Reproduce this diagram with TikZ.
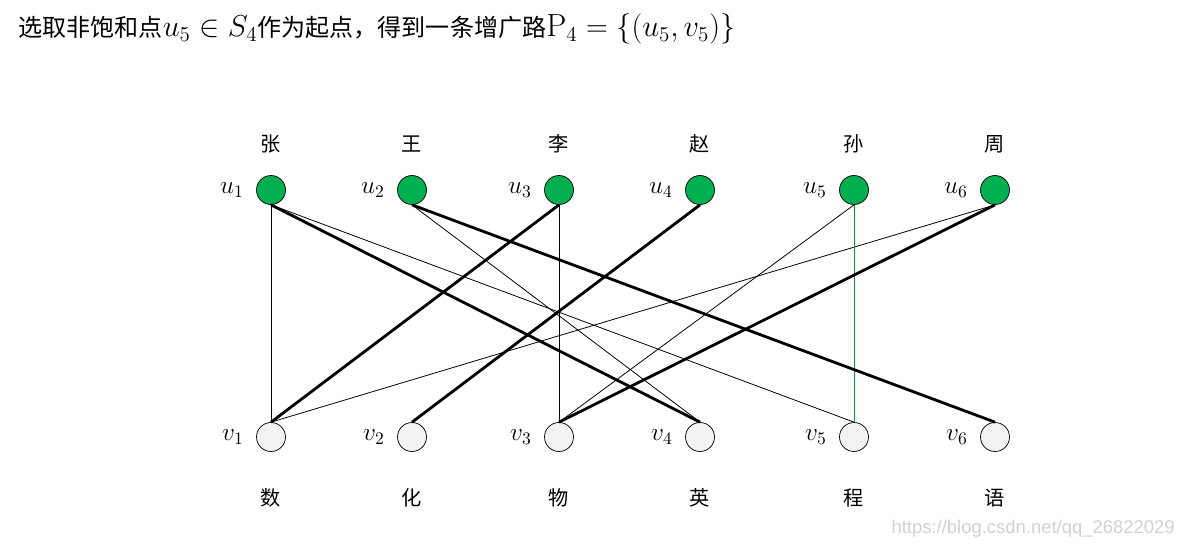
\documentclass[tikz,border=0pt]{standalone}
\usepackage{fontspec}
\usepackage{amsmath}
\newfontfamily\cjk{Noto Sans CJK SC}[Scale=1]
\newfontfamily\wmfont{Liberation Sans}
\usetikzlibrary{positioning}
\definecolor{satGreen}{RGB}{0,176,80}
\definecolor{freeGray}{RGB}{242,242,242}
\definecolor{pathGreen}{RGB}{0,160,60}
\newcommand{\titlemath}[1]{{\fontsize{18.2}{21}\selectfont$#1$}}
\tikzset{
    unode/.style={circle,draw=black,thin,fill=satGreen,minimum size=0.58cm,inner sep=0pt},
    vnode/.style={circle,draw=black,thin,fill=freeGray,minimum size=0.58cm,inner sep=0pt},
    sublbl/.style={font=\fontsize{14}{16}\selectfont,inner sep=0pt},
    namelbl/.style={font=\cjk\fontsize{11.5}{13}\selectfont,inner sep=0pt},
    match/.style={line width=1.6pt},
    edge/.style={line width=0.45pt},
    aug/.style={line width=0.45pt,draw=pathGreen}
}

\begin{document}
\begin{tikzpicture}[x=0.02cm,y=-0.02cm]
    \useasboundingbox (0,0) rectangle (1183,548);

    % title
    \node[anchor=west,inner sep=0pt,font=\cjk\fontsize{13.7}{16}\selectfont] (title) at (18,29)
        {选取非饱和点\titlemath{u_5\in S_4}作为起点，得到一条增广路\titlemath{\mathrm{P}_4=\{(u_5,v_5)\}}};

    % vertices
    \foreach \i/\x/\top/\bot in {1/271/张/数,2/412/王/化,3/559/李/物,4/700/赵/英,5/854/孙/程,6/995/周/语}{
        \node[unode] (u\i) at (\x,190) {};
        \node[vnode] (v\i) at (\x,437) {};
        \node[sublbl,left=0.24cm of u\i] (lu\i) {$u_{\i}$};
        \node[sublbl,left=0.24cm of v\i] (lv\i) {$v_{\i}$};
        \node[namelbl] (n\i) at (\x,144) {\top};
        \node[namelbl] (c\i) at (\x,498) {\bot};
    }

    % edges
    \draw[edge] (u1.south) -- (v1.north);
    \draw[edge] (u1.south) -- (v5.north);
    \draw[edge] (u2.south) -- (v4.north);
    \draw[edge] (u3.south) -- (v3.north);
    \draw[edge] (u5.south) -- (v3.north);
    \draw[edge] (u6.south) -- (v1.north);
    \draw[aug] (u5.south) -- (v5.north);

    % matching
    \draw[match] (u1.south) -- (v4.north);
    \draw[match] (u2.south) -- (v6.north);
    \draw[match] (u3.south) -- (v1.north);
    \draw[match] (u4.south) -- (v2.north);
    \draw[match] (u6.south) -- (v3.north);

    \node[anchor=east,inner sep=0pt,text=black!18,font=\wmfont\fontsize{10.5}{12}\selectfont] (wm) at (1175,529)
        {https://blog.csdn.net/qq\_26822029};
\end{tikzpicture}
\end{document}
